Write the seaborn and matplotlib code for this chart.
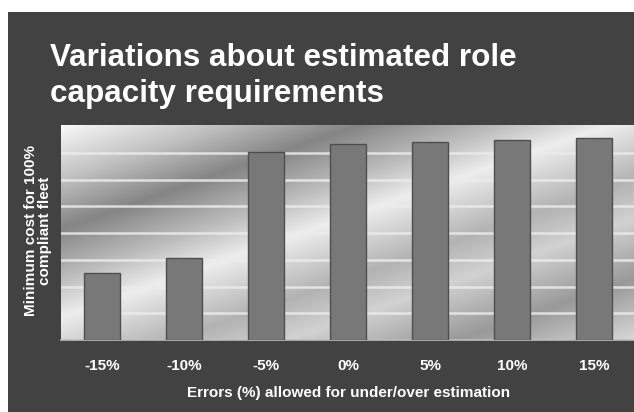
import numpy as np
import pandas as pd
import matplotlib
matplotlib.use("Agg")
import matplotlib.pyplot as plt
from matplotlib.patches import Rectangle
import seaborn as sns

# Error allowance categories and the minimum fleet cost found for each
categories = ["-15%", "-10%", "-5%", "0%", "5%", "10%", "15%"]
min_cost = [2.52, 3.06, 7.05, 7.33, 7.43, 7.50, 7.55]

title_lines = ["Variations about estimated role", "capacity requirements"]
y_label = "Minimum cost for 100%\ncompliant fleet"
x_label = "Errors (%) allowed for under/over estimation"

df = pd.DataFrame({"error": categories, "cost": min_cost})

sns.set_theme(style="white")
plt.rcParams["font.family"] = ["Liberation Sans", "DejaVu Sans"]

W, H = 634, 412
fig = plt.figure(figsize=(W / 100, H / 100), dpi=100, facecolor="white")

# dark slide panel behind everything
fig.patches.append(Rectangle((8 / W, 0), 1, (H - 12) / H, transform=fig.transFigure,
                             facecolor="#424242", edgecolor="none", zorder=-10))

ax_l, ax_r, ax_t, ax_b = 61, 635, 125, 340
ax = fig.add_axes([ax_l / W, 1 - ax_b / H, (ax_r - ax_l) / W, (ax_b - ax_t) / H])

# brushed-metal style diagonal gradient for the plotting area
pw, ph = ax_r - ax_l, ax_b - ax_t
gx, gy = np.meshgrid(np.arange(pw), np.arange(ph)[::-1])
s = gy - 0.35 * gx
stops_s = [-205, -140, -80, -40, 22, 60, 110, 160, 215]
stops_v = [0.86, 0.60, 0.82, 0.70, 0.93, 0.74, 0.52, 0.76, 0.98]
shade = np.interp(s, stops_s, stops_v)

sns.barplot(data=df, x="error", y="cost", ax=ax, color="#787878", width=0.43,
            saturation=1, edgecolor="#4e4e4e", linewidth=1.0, zorder=3)

ax.imshow(shade, cmap="gray", vmin=0, vmax=1, aspect="auto",
          extent=(-0.5, len(categories) - 0.5, 0, 8.05), zorder=0, interpolation="bilinear")
ax.set_xlim(-0.5, len(categories) - 0.5)
ax.set_ylim(0, 8.05)
ax.set_yticks(np.arange(1, 8))
ax.set_yticklabels([])
ax.yaxis.grid(True, color="#ececec", linewidth=1.8, alpha=0.85)
ax.set_axisbelow(False)
for gl in ax.get_ygridlines():
    gl.set_zorder(1)
ax.tick_params(axis="y", length=0)

# category boundary ticks below the axis, labels centred on the bars
ax.set_xticks(np.arange(len(categories)))
ax.set_xticklabels(categories, color="white", fontsize=11, fontweight="bold")
ax.set_xticks(np.arange(len(categories)) - 0.5, minor=True)
ax.tick_params(axis="x", which="major", length=0, pad=14)
ax.tick_params(axis="x", which="minor", length=4, width=1, color="#bdbdbd", direction="out")
ax.set_xlabel("")
ax.set_ylabel("")
for side in ["top", "right", "left"]:
    ax.spines[side].set_visible(False)
ax.spines["bottom"].set_color("#bdbdbd")
ax.spines["bottom"].set_linewidth(1.2)

fig.text(50 / W, 1 - 66 / H, title_lines[0], color="white", fontsize=22.6,
         fontweight="bold", ha="left", va="baseline")
fig.text(50 / W, 1 - 102 / H, title_lines[1], color="white", fontsize=22.6,
         fontweight="bold", ha="left", va="baseline")

fig.text(38 / W, 1 - 231 / H, y_label, color="white", fontsize=11, fontweight="bold",
         rotation=90, ha="center", va="center", linespacing=1.05, multialignment="center")
fig.text(349 / W, 1 - 393 / H, x_label, color="white", fontsize=11, fontweight="bold",
         ha="center", va="center")

fig.savefig("out.png", dpi=100, facecolor=fig.get_facecolor())
